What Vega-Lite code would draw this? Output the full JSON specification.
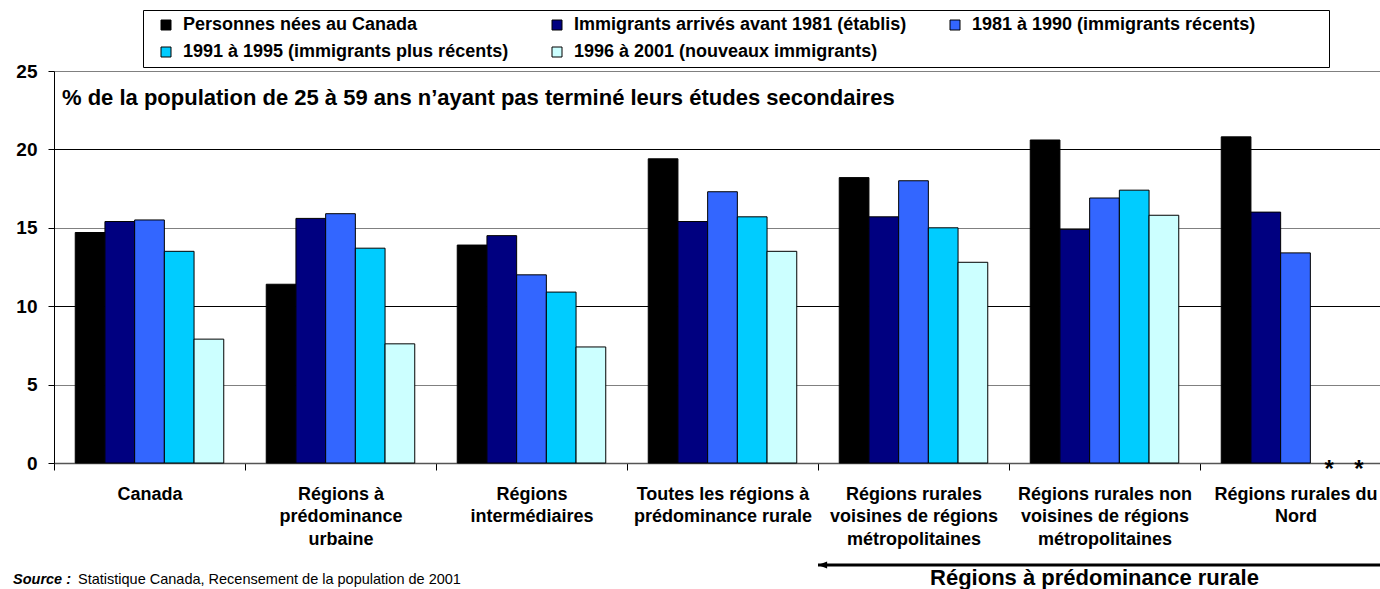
{
  "$schema": "https://vega.github.io/schema/vega-lite/v6.json",
  "width": 1326,
  "height": 392,
  "autosize": {"type": "none"},
  "padding": {"left": 54, "top": 71, "right": 0, "bottom": 126},
  "background": "white",
  "config": {"font": "Liberation Sans", "view": {"stroke": null}},
  "datasets": {
    "bars": [
      {"region": "Canada", "series": "Personnes nées au Canada", "value": 14.7},
      {"region": "Canada", "series": "Immigrants arrivés avant 1981 (établis)", "value": 15.4},
      {"region": "Canada", "series": "1981 à 1990 (immigrants récents)", "value": 15.5},
      {"region": "Canada", "series": "1991 à 1995 (immigrants plus récents)", "value": 13.5},
      {"region": "Canada", "series": "1996 à 2001 (nouveaux immigrants)", "value": 7.9},
      {"region": "Régions à prédominance urbaine", "series": "Personnes nées au Canada", "value": 11.4},
      {"region": "Régions à prédominance urbaine", "series": "Immigrants arrivés avant 1981 (établis)", "value": 15.6},
      {"region": "Régions à prédominance urbaine", "series": "1981 à 1990 (immigrants récents)", "value": 15.9},
      {"region": "Régions à prédominance urbaine", "series": "1991 à 1995 (immigrants plus récents)", "value": 13.7},
      {"region": "Régions à prédominance urbaine", "series": "1996 à 2001 (nouveaux immigrants)", "value": 7.6},
      {"region": "Régions intermédiaires", "series": "Personnes nées au Canada", "value": 13.9},
      {"region": "Régions intermédiaires", "series": "Immigrants arrivés avant 1981 (établis)", "value": 14.5},
      {"region": "Régions intermédiaires", "series": "1981 à 1990 (immigrants récents)", "value": 12.0},
      {"region": "Régions intermédiaires", "series": "1991 à 1995 (immigrants plus récents)", "value": 10.9},
      {"region": "Régions intermédiaires", "series": "1996 à 2001 (nouveaux immigrants)", "value": 7.4},
      {"region": "Toutes les régions à prédominance rurale", "series": "Personnes nées au Canada", "value": 19.4},
      {"region": "Toutes les régions à prédominance rurale", "series": "Immigrants arrivés avant 1981 (établis)", "value": 15.4},
      {"region": "Toutes les régions à prédominance rurale", "series": "1981 à 1990 (immigrants récents)", "value": 17.3},
      {"region": "Toutes les régions à prédominance rurale", "series": "1991 à 1995 (immigrants plus récents)", "value": 15.7},
      {"region": "Toutes les régions à prédominance rurale", "series": "1996 à 2001 (nouveaux immigrants)", "value": 13.5},
      {"region": "Régions rurales voisines de régions métropolitaines", "series": "Personnes nées au Canada", "value": 18.2},
      {"region": "Régions rurales voisines de régions métropolitaines", "series": "Immigrants arrivés avant 1981 (établis)", "value": 15.7},
      {"region": "Régions rurales voisines de régions métropolitaines", "series": "1981 à 1990 (immigrants récents)", "value": 18.0},
      {"region": "Régions rurales voisines de régions métropolitaines", "series": "1991 à 1995 (immigrants plus récents)", "value": 15.0},
      {"region": "Régions rurales voisines de régions métropolitaines", "series": "1996 à 2001 (nouveaux immigrants)", "value": 12.8},
      {"region": "Régions rurales non voisines de régions métropolitaines", "series": "Personnes nées au Canada", "value": 20.6},
      {"region": "Régions rurales non voisines de régions métropolitaines", "series": "Immigrants arrivés avant 1981 (établis)", "value": 14.9},
      {"region": "Régions rurales non voisines de régions métropolitaines", "series": "1981 à 1990 (immigrants récents)", "value": 16.9},
      {"region": "Régions rurales non voisines de régions métropolitaines", "series": "1991 à 1995 (immigrants plus récents)", "value": 17.4},
      {"region": "Régions rurales non voisines de régions métropolitaines", "series": "1996 à 2001 (nouveaux immigrants)", "value": 15.8},
      {"region": "Régions rurales du Nord", "series": "Personnes nées au Canada", "value": 20.8},
      {"region": "Régions rurales du Nord", "series": "Immigrants arrivés avant 1981 (établis)", "value": 16.0},
      {"region": "Régions rurales du Nord", "series": "1981 à 1990 (immigrants récents)", "value": 13.4}
    ],
    "stars": [
      {"region": "Régions rurales du Nord", "series": "1991 à 1995 (immigrants plus récents)", "value": 0, "label": "*"},
      {"region": "Régions rurales du Nord", "series": "1996 à 2001 (nouveaux immigrants)", "value": 0, "label": "*"}
    ],
    "headline": [
      {"region": "Canada", "value": 23.3, "label": "% de la population de 25 à 59 ans n’ayant pas terminé leurs études secondaires"}
    ],
    "arrow": [
      {"region": "Régions rurales voisines de régions métropolitaines", "region_end": "Régions rurales du Nord", "value": -6.5}
    ],
    "arrowhead": [
      {"region": "Régions rurales voisines de régions métropolitaines", "value": -6.5}
    ],
    "bracket": [
      {"region": "Régions rurales non voisines de régions métropolitaines", "value": -7.35, "label": "Régions à prédominance rurale"}
    ],
    "source": [
      {"region": "Canada", "value": -7.7, "label": "Source :"}
    ],
    "source2": [
      {"region": "Canada", "value": -7.7, "label": "Statistique Canada, Recensement de la population de 2001"}
    ]
  },
  "encoding": {
    "x": {
      "field": "region",
      "type": "nominal",
      "title": null,
      "scale": {
        "domain": [
          "Canada",
          "Régions à prédominance urbaine",
          "Régions intermédiaires",
          "Toutes les régions à prédominance rurale",
          "Régions rurales voisines de régions métropolitaines",
          "Régions rurales non voisines de régions métropolitaines",
          "Régions rurales du Nord"
        ],
        "range": [0, 1337],
        "paddingInner": 0,
        "paddingOuter": 0
      },
      "axis": {
        "labelAngle": 0,
        "labelFont": "Liberation Sans",
        "labelFontSize": 18,
        "labelFontWeight": "bold",
        "labelColor": "black",
        "labelLineHeight": 22.5,
        "labelBaseline": "top",
        "labelPadding": 15,
        "labelLimit": 400,
        "labelOverlap": false,
        "tickBand": "extent",
        "tickSize": 7,
        "tickColor": "black",
        "domainColor": "#555555",
        "domainWidth": 1.5,
        "labelExpr": "datum.label == 'Régions à prédominance urbaine' ? ['Régions à', 'prédominance', 'urbaine'] : datum.label == 'Régions intermédiaires' ? ['Régions', 'intermédiaires'] : datum.label == 'Toutes les régions à prédominance rurale' ? ['Toutes les régions à', 'prédominance rurale'] : datum.label == 'Régions rurales voisines de régions métropolitaines' ? ['Régions rurales', 'voisines de régions', 'métropolitaines'] : datum.label == 'Régions rurales non voisines de régions métropolitaines' ? ['Régions rurales non', 'voisines de régions', 'métropolitaines'] : datum.label == 'Régions rurales du Nord' ? ['Régions rurales du', 'Nord'] : datum.label"
      }
    },
    "y": {
      "field": "value",
      "type": "quantitative",
      "title": null,
      "scale": {"domain": [0, 25], "nice": false, "zero": false},
      "axis": {
        "values": [0, 5, 10, 15, 20, 25],
        "labelFont": "Liberation Sans",
        "labelFontSize": 19,
        "labelFontWeight": "bold",
        "labelColor": "black",
        "labelPadding": 11,
        "tickSize": 6,
        "tickColor": "black",
        "domainColor": "black",
        "grid": true,
        "gridColor": {"condition": {"test": "datum.value % 10 === 0", "value": "#000000"}, "value": "#808080"},
        "gridWidth": 1
      }
    }
  },
  "layer": [
    {
      "data": {"name": "bars"},
      "mark": {"type": "bar", "stroke": "black", "strokeWidth": 1},
      "encoding": {
        "xOffset": {
          "field": "series",
          "type": "nominal",
          "scale": {
            "domain": [
              "Personnes nées au Canada",
              "Immigrants arrivés avant 1981 (établis)",
              "1981 à 1990 (immigrants récents)",
              "1991 à 1995 (immigrants plus récents)",
              "1996 à 2001 (nouveaux immigrants)"
            ],
            "paddingInner": 0,
            "paddingOuter": 0.715
          }
        },
        "color": {
          "field": "series",
          "type": "nominal",
          "scale": {
            "domain": [
              "Personnes nées au Canada",
              "Immigrants arrivés avant 1981 (établis)",
              "1981 à 1990 (immigrants récents)",
              "1991 à 1995 (immigrants plus récents)",
              "1996 à 2001 (nouveaux immigrants)"
            ],
            "range": ["#000000", "#000080", "#3366FF", "#00CCFF", "#CCFFFF"]
          },
          "legend": {
            "title": "\u00a0",
            "titleOrient": "right",
            "titlePadding": 68,
            "titleFontSize": 10,
            "orient": "none",
            "legendX": 89,
            "legendY": -61,
            "direction": "horizontal",
            "columns": 3,
            "columnPadding": 31,
            "rowPadding": 9,
            "padding": 6,
            "strokeColor": "black",
            "fillColor": "white",
            "symbolType": "square",
            "symbolSize": 100,
            "symbolStrokeColor": "black",
            "symbolStrokeWidth": 1,
            "symbolOpacity": 1,
            "symbolOffset": 8,
            "labelOffset": 8,
            "labelFont": "Liberation Sans",
            "labelFontSize": 18,
            "labelFontWeight": "bold",
            "labelColor": "black",
            "labelLimit": 500
          }
        }
      }
    },
    {
      "data": {"name": "stars"},
      "mark": {"type": "text", "fontSize": 24, "fontWeight": "bold", "baseline": "middle", "dy": 7, "dx": 4, "color": "black"},
      "encoding": {
        "xOffset": {"field": "series", "type": "nominal"},
        "text": {"field": "label"}
      }
    },
    {
      "data": {"name": "headline"},
      "mark": {"type": "text", "align": "left", "baseline": "middle", "dx": 8, "fontSize": 22, "fontWeight": "bold", "color": "black"},
      "encoding": {
        "x": {"field": "region", "type": "nominal", "bandPosition": 0},
        "text": {"field": "label"}
      }
    },
    {
      "data": {"name": "arrow"},
      "mark": {"type": "rule", "strokeWidth": 3, "color": "black"},
      "encoding": {
        "x": {"field": "region", "type": "nominal", "bandPosition": 0},
        "x2": {"field": "region_end", "bandPosition": 1}
      }
    },
    {
      "data": {"name": "arrowhead"},
      "mark": {"type": "point", "shape": "M0,0L1.3,-0.5L1.3,0.5Z", "size": 196, "filled": true, "color": "black", "opacity": 1},
      "encoding": {
        "x": {"field": "region", "type": "nominal", "bandPosition": 0}
      }
    },
    {
      "data": {"name": "bracket"},
      "mark": {"type": "text", "align": "center", "baseline": "middle", "dx": -10, "fontSize": 22, "fontWeight": "bold", "color": "black"},
      "encoding": {
        "text": {"field": "label"}
      }
    },
    {
      "data": {"name": "source"},
      "mark": {"type": "text", "align": "left", "baseline": "alphabetic", "dx": -41, "fontSize": 14.5, "fontWeight": "bold", "fontStyle": "italic", "color": "black"},
      "encoding": {
        "x": {"field": "region", "type": "nominal", "bandPosition": 0},
        "text": {"field": "label"}
      }
    },
    {
      "data": {"name": "source2"},
      "mark": {"type": "text", "align": "left", "baseline": "alphabetic", "dx": 24, "fontSize": 14.5, "color": "black"},
      "encoding": {
        "x": {"field": "region", "type": "nominal", "bandPosition": 0},
        "text": {"field": "label"}
      }
    }
  ]
}
